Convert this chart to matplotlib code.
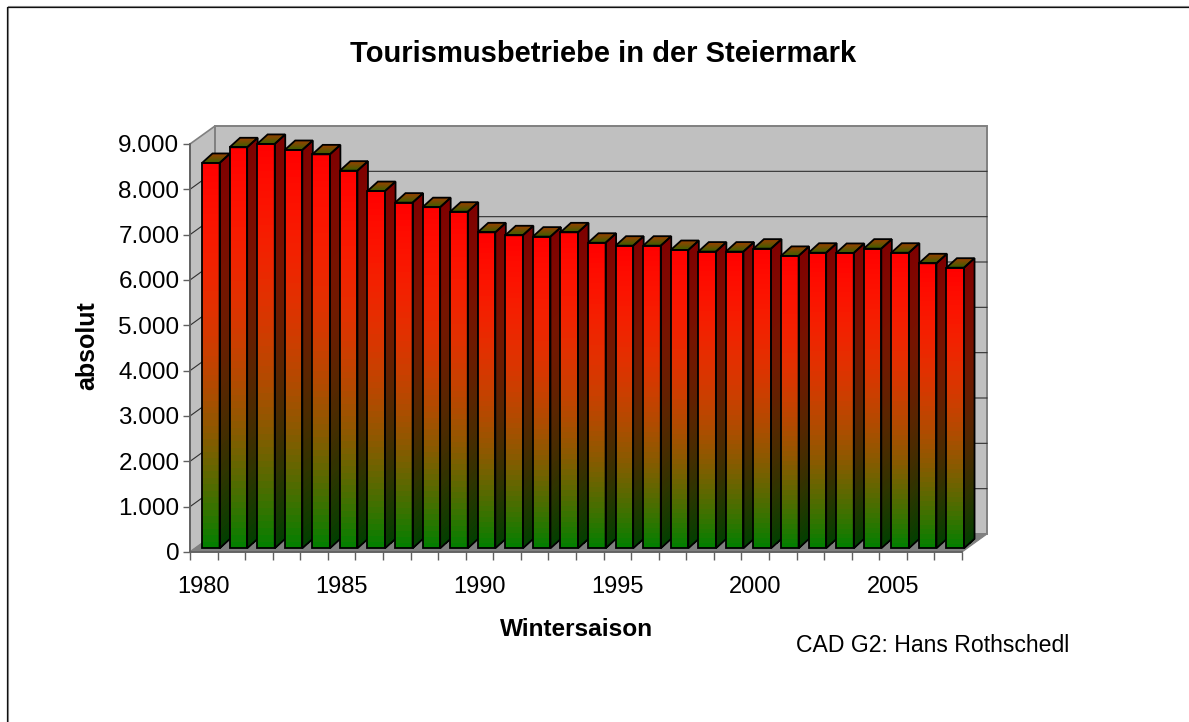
import numpy as np
import matplotlib
matplotlib.use("Agg")
import matplotlib.pyplot as plt
from matplotlib.lines import Line2D
from matplotlib.patches import Polygon
from matplotlib.ticker import FuncFormatter, FixedLocator

years = list(range(1980, 2008))
betriebe = [8500, 8846, 8920, 8786, 8690, 8330, 7880, 7625, 7525, 7425,
            6970, 6905, 6875, 6970, 6740, 6675, 6675, 6580, 6545, 6545,
            6610, 6450, 6520, 6515, 6610, 6520, 6287, 6190]
title = "Tourismusbetriebe in der Steiermark"
xlabel = "Wintersaison"
ylabel = "absolut"
credit = "CAD G2: Hans Rothschedl"

plt.rcParams['font.family'] = ['Liberation Sans', 'DejaVu Sans']

W, H = 1189, 722
fig = plt.figure(figsize=(W/100, H/100), dpi=100)
# front plane of the fake 3D box, given in pixels
x0, x1, y0, y1 = 190, 962, 552, 144
ax = fig.add_axes([x0/W, 1-y0/H, (x1-x0)/W, (y0-y1)/H])
ax.set_xlim(0, len(years))
ax.set_ylim(0, 9000)
ax.patch.set_visible(False)

px = len(years)/(x1-x0)
py = 9000/(y0-y1)
depth_x, depth_y = 25*px, 18*py

GREY = '#c0c0c0'
DARK = '#808080'

def poly(pts, **kw):
    ax.add_patch(Polygon(pts, closed=True, clip_on=False, **kw))

n = len(years)
poly([(0, 0), (0, 9000), (depth_x, 9000+depth_y), (depth_x, depth_y)], fc=GREY, ec=DARK, lw=1.2, zorder=1)
poly([(depth_x, depth_y), (depth_x, 9000+depth_y), (n+depth_x, 9000+depth_y), (n+depth_x, depth_y)],
     fc=GREY, ec=DARK, lw=1.4, zorder=1)
poly([(0, 0), (n, 0), (n+depth_x, depth_y), (depth_x, depth_y)], fc=DARK, ec=DARK, lw=0.8, zorder=1)

for v in range(1000, 9000, 1000):
    ax.plot([0, depth_x, n+depth_x], [v, v+depth_y, v+depth_y], color='#303030', lw=0.8, clip_on=False, zorder=2)

def ramp(t, shade=1.0):
    # green falls linearly, red comes in fast and saturates
    t = np.asarray(t)
    r = 1-(1-t)**2.2
    g = 0.5*(1-t)
    return np.stack([r, g, np.zeros_like(t)], axis=-1)*shade

# bar geometry in category units / value units
left = 12*px
width = 17.6*px
sy = 3.7*py
bdx = 10.5*px
bdy = 9.5*py
lw = 1.3

for i, v in enumerate(betriebe):
    xa = i + left
    xb = xa + width
    yb = sy
    yt = sy + v
    z = 3 + i*0.01
    ts = np.linspace(0, 1, 61)
    mid = ((ts[:-1]+ts[1:])/2)[:, None]

    # side
    X = np.column_stack([np.full(61, xb), np.full(61, xb+bdx)])
    Y = np.column_stack([yb+ts*v, yb+ts*v+bdy])
    ax.pcolormesh(X, Y, ramp(mid, 0.5), clip_on=False, zorder=z)
    # top
    X = np.column_stack([xa+ts*bdx, xb+ts*bdx])
    Y = np.column_stack([yt+ts*bdy, yt+ts*bdy])
    ax.pcolormesh(X, Y, ramp(0.12+0.3*mid, 0.85), clip_on=False, zorder=z)
    # front
    X = np.column_stack([np.full(61, xa), np.full(61, xb)])
    Y = np.column_stack([yb+ts*v, yb+ts*v])
    ax.pcolormesh(X, Y, ramp(mid), clip_on=False, zorder=z)

    poly([(xa, yb), (xa, yt), (xb, yt), (xb, yb)], fc='none', ec='black', lw=lw, zorder=z+0.001)
    poly([(xa, yt), (xa+bdx, yt+bdy), (xb+bdx, yt+bdy), (xb, yt)], fc='none', ec='black', lw=lw, zorder=z+0.001)
    poly([(xb, yb), (xb, yt), (xb+bdx, yt+bdy), (xb+bdx, yb+bdy)], fc='none', ec='black', lw=lw, zorder=z+0.001)

for s in ['top', 'right']:
    ax.spines[s].set_visible(False)
for s in ['left', 'bottom']:
    ax.spines[s].set_color('#606060')
    ax.spines[s].set_linewidth(1.3)
    ax.spines[s].set_zorder(10)

ax.yaxis.set_major_locator(FixedLocator(range(0, 10000, 1000)))
ax.yaxis.set_major_formatter(FuncFormatter(lambda v, p: f"{int(v):,}".replace(",", ".")))
ax.set_xticks(np.arange(0, n+1))
ax.set_xticklabels([])
ax.set_xticks([i+0.5 for i, y in enumerate(years) if y % 5 == 0], minor=True)
ax.set_xticklabels([str(y) for y in years if y % 5 == 0], minor=True)
ax.tick_params(axis='x', which='minor', length=0, labelsize=17, pad=17.5, labelcolor='black')
ax.tick_params(axis='x', which='major', length=6, width=1.0, color='#606060')
ax.tick_params(axis='y', length=5, width=1.0, color='#606060', labelsize=17.5, pad=2.6, labelcolor='black')

fig.text(603/W, 1-54/H, title, ha='center', va='center', fontsize=21, fontweight='bold')
fig.text(577/W, 1-629/H, xlabel, ha='center', va='center', fontsize=17.6, fontweight='bold')
fig.text(87/W, 1-346/H, ylabel, ha='center', va='center', rotation=90, fontsize=18, fontweight='bold')
fig.text(933/W, 1-645/H, credit, ha='center', va='center', fontsize=16.6)

# only the top and left frame lines are in the picture
fig.add_artist(Line2D([8/W, 8/W, 1], [0, 1-6/H, 1-6/H], color='#909090', lw=0.8))
fig.add_artist(Line2D([7.2/W, 7.2/W, 1], [0, 1-7/H, 1-7/H], color='#101010', lw=0.9))

fig.savefig("out.png", dpi=100)
